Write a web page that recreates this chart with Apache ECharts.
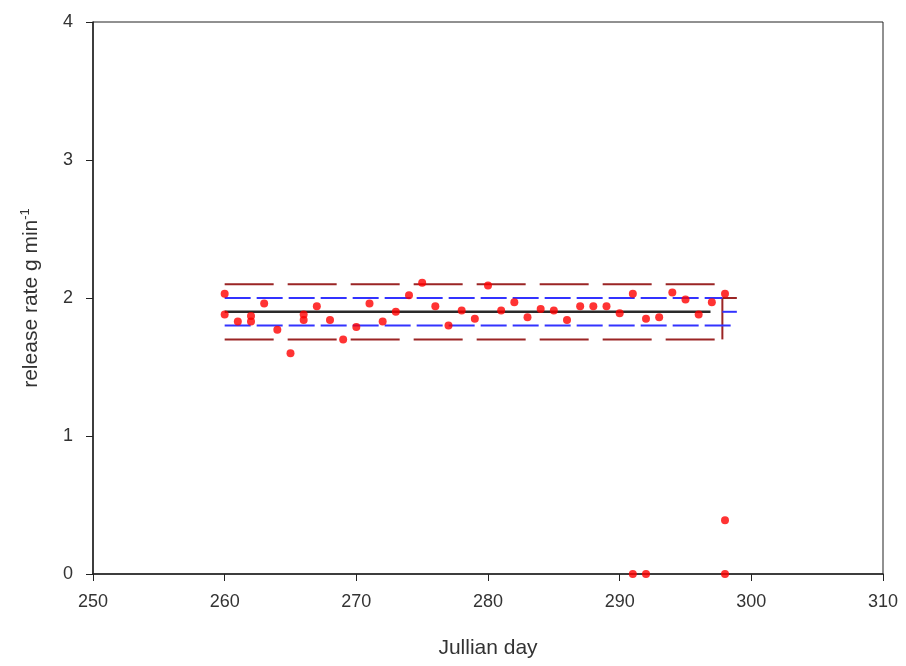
<!DOCTYPE html>
<html>
<head>
<meta charset="utf-8">
<script src="https://cdn.jsdelivr.net/npm/echarts@6/dist/echarts.min.js"></script>
<style>
  html, body { margin: 0; padding: 0; background: #fff; }
  #chart { width: 906px; height: 666px; }
</style>
</head>
<body>
<div id="chart"></div>
<script>
// measured release rates (day, g/min)
var days = [260, 260, 261, 262, 262, 263, 264, 265, 266, 266, 267, 268, 269, 270, 271, 272, 273, 274, 275, 276, 277, 278, 279, 280, 281, 282, 283, 284, 285, 286, 287, 288, 289, 290, 291, 291, 292, 292, 293, 294, 295, 296, 297, 298, 298, 298];
var rates = [2.03, 1.88, 1.83, 1.87, 1.83, 1.96, 1.77, 1.60, 1.88, 1.84, 1.94, 1.84, 1.70, 1.79, 1.96, 1.83, 1.90, 2.02, 2.11, 1.94, 1.80, 1.91, 1.85, 2.09, 1.91, 1.97, 1.86, 1.92, 1.91, 1.84, 1.94, 1.94, 1.94, 1.89, 2.03, 0, 1.85, 0, 1.86, 2.04, 1.99, 1.88, 1.97, 2.03, 0.39, 0];

// reference lines
var meanLine = [[260, 1.9], [296.9, 1.9]];
var blueUpper = [[260, 2.0], [297.8, 2.0]];
var blueMid = [[297.8, 1.9], [298.9, 1.9]];
var blueLower = [[260, 1.8], [298.6, 1.8]];
var redUpper = [[260, 2.1], [297.7, 2.1]];
var redStep = [[297.8, 2.0], [298.9, 2.0]];
var redLower = [[260, 1.7], [298.2, 1.7]];
var redVertical = [[297.8, 1.7], [297.8, 2.0]];

var xTicks = [250, 310, 10];
var yTicks = [0, 4, 1];

var points = [];
for (var i = 0; i < days.length; i++) {
  points.push([days[i], rates[i]]);
}

function lineSeries(data, color, dash, width) {
  return {
    type: 'line',
    data: data,
    showSymbol: false,
    symbol: 'none',
    silent: true,
    z: 2,
    lineStyle: { color: color, width: width || 2, type: dash }
  };
}

var chart = echarts.init(document.getElementById('chart'));
var font = 'Liberation Sans, Arial, sans-serif';

var option = {
  animation: false,
  backgroundColor: '#fff',
  grid: {
    left: 93, top: 22, right: 23, bottom: 92,
    show: true, borderColor: '#222', borderWidth: 1
  },
  xAxis: {
    type: 'value',
    min: xTicks[0], max: xTicks[1], interval: xTicks[2],
    name: 'Jullian day',
    nameLocation: 'middle',
    nameGap: 64,
    nameTextStyle: { fontFamily: font, fontSize: 21, color: '#333' },
    axisLine: { lineStyle: { color: '#222', width: 1.5 } },
    axisTick: { inside: false, length: 7, lineStyle: { color: '#222' } },
    axisLabel: { fontFamily: font, fontSize: 18, color: '#333', margin: 19 },
    splitLine: { show: false }
  },
  yAxis: {
    type: 'value',
    min: yTicks[0], max: yTicks[1], interval: yTicks[2],
    name: '{a|release rate g min}{s|-1}',
    nameLocation: 'middle',
    nameGap: 49,
    nameTextStyle: {
      fontFamily: font, fontSize: 21, color: '#333',
      rich: {
        a: { fontFamily: font, fontSize: 21, color: '#333' },
        s: { fontFamily: font, fontSize: 13, color: '#333', verticalAlign: 'top', padding: [0, 0, 12, 0] }
      }
    },
    axisLine: { lineStyle: { color: '#222', width: 1.5 } },
    axisTick: { inside: false, length: 7, lineStyle: { color: '#222' } },
    axisLabel: { fontFamily: font, fontSize: 18, color: '#333', margin: 20 },
    splitLine: { show: false }
  },
  series: [
    lineSeries(redUpper, '#9b2525', [49, 14]),
    lineSeries(redLower, '#9b2525', [49, 14]),
    lineSeries(redStep, '#9b2525', 'solid'),
    lineSeries(redVertical, '#9b2525', 'solid'),
    lineSeries(blueUpper, '#3333ff', [26, 6]),
    lineSeries(blueLower, '#3333ff', [26, 6]),
    lineSeries(blueMid, '#3333ff', 'solid'),
    lineSeries(meanLine, '#2a2a2a', 'solid', 2.5),
    {
      type: 'scatter',
      data: points,
      symbol: 'circle',
      symbolSize: 8,
      z: 5,
      itemStyle: { color: '#ff0000' }
    }
  ]
};

chart.setOption(option);
</script>
</body>
</html>
